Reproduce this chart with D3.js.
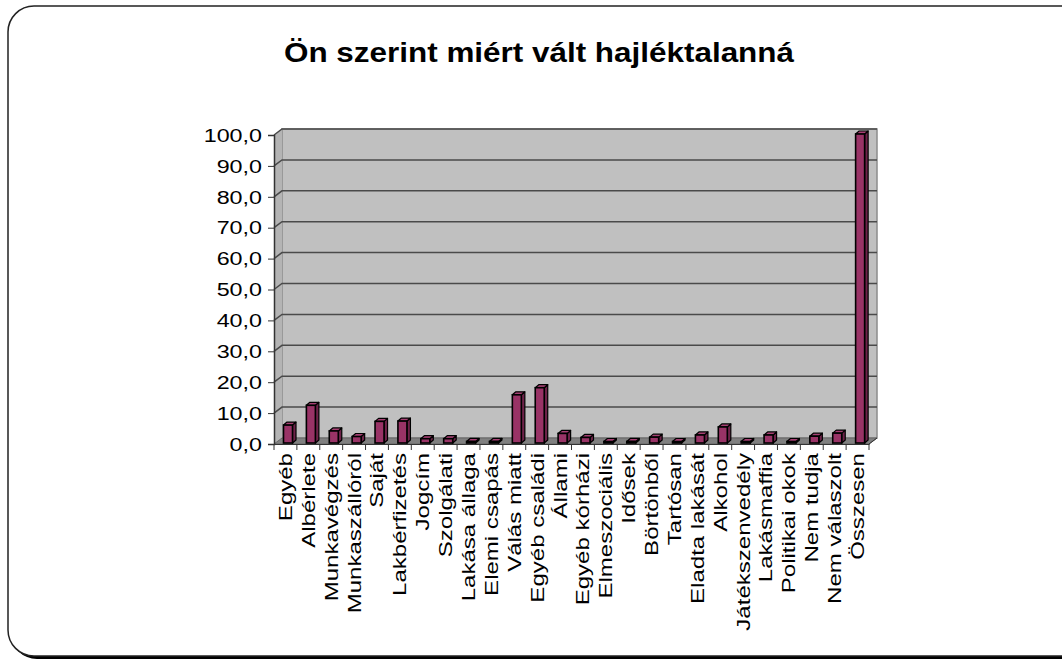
<!DOCTYPE html>
<html>
<head>
<meta charset="utf-8">
<script src="https://cdn.jsdelivr.net/npm/d3@7"></script>
<style>
  body { margin: 0; background: #fff; }
  svg { display: block; font-family: "Liberation Sans", Arial, sans-serif; }
  .title { font-size: 27px; font-weight: bold; }
</style>
</head>
<body>
<svg width="1062" height="662"></svg>
<script>
const svg = d3.select('svg');

// data
const categories = ['Egyéb', 'Albérlete', 'Munkavégzés', 'Munkaszállóról', 'Saját', 'Lakbérfizetés',
  'Jogcím', 'Szolgálati', 'Lakása állaga', 'Elemi csapás', 'Válás miatt', 'Egyéb családi', 'Állami',
  'Egyéb kórházi', 'Elmeszociális', 'Idősek', 'Börtönből', 'Tartósan', 'Eladta lakását', 'Alkohol',
  'Játékszenvedély', 'Lakásmaffia', 'Politikai okok', 'Nem tudja', 'Nem válaszolt', 'Összesen'];
const values = [5.8, 12.2, 3.9, 2.1, 7.0, 7.1, 1.4, 1.4, 0.5, 0.5, 15.6, 17.9, 3.1,
  1.8, 0.3, 0.5, 1.9, 0.4, 2.6, 5.2, 0.4, 2.6, 0.1, 2.2, 3.2, 100.0];
const yTicks = [0, 10, 20, 30, 40, 50, 60, 70, 80, 90, 100];

// frame with shadow
svg.append('rect')
  .attr('x', 11).attr('y', 9).attr('width', 1080).attr('height', 650)
  .attr('rx', 26).attr('fill', '#000');
svg.append('rect')
  .attr('x', 8).attr('y', 6).attr('width', 1080).attr('height', 650)
  .attr('rx', 26).attr('fill', '#fff').attr('stroke', '#222').attr('stroke-width', 1.5);

// title, stretched a little like the original
svg.append('text')
  .attr('class', 'title')
  .attr('x', 284).attr('y', 62)
  .attr('textLength', 510).attr('lengthAdjust', 'spacingAndGlyphs')
  .text('Ön szerint miért vált hajléktalanná');

// 3d layout
const plotLeft = 274, plotRight = 869;
const plotBase = 444, plotTop = 135;
const depthX = 8, depthY = -6;

const x = d3.scaleBand().domain(categories).range([plotLeft, plotRight]);
const y = d3.scaleLinear().domain([0, 100]).range([plotBase, plotTop]);

const g = svg.append('g');

// back wall
g.append('rect')
  .attr('x', plotLeft + depthX).attr('y', plotTop + depthY)
  .attr('width', plotRight - plotLeft).attr('height', plotBase - plotTop)
  .attr('fill', '#c0c0c0').attr('stroke', '#8c8c8c').attr('stroke-width', 1.5);

// side wall
g.append('polygon')
  .attr('points', [[plotLeft, plotTop], [plotLeft + depthX, plotTop + depthY], [plotLeft + depthX, plotBase + depthY], [plotLeft, plotBase]].join(' '))
  .attr('fill', '#b4b4b4');

// floor
g.append('polygon')
  .attr('points', [[plotLeft, plotBase], [plotLeft + depthX, plotBase + depthY], [plotRight + depthX, plotBase + depthY], [plotRight, plotBase]].join(' '))
  .attr('fill', '#808080').attr('stroke', '#666').attr('stroke-width', 1);

// gridlines
yTicks.filter(d => d > 0).forEach(t => {
  g.append('polyline')
    .attr('points', [[plotLeft, y(t)], [plotLeft + depthX, y(t) + depthY], [plotRight + depthX, y(t) + depthY]].join(' '))
    .attr('fill', 'none').attr('stroke', '#4a4a4a').attr('stroke-width', 1.5);
});

// y axis
const fmt = d => d3.format('.1f')(d).replace('.', ',');
const yAxis = g.append('g')
  .attr('transform', `translate(${plotLeft},0)`)
  .call(d3.axisLeft(y).tickValues(yTicks).tickFormat(fmt).tickSize(6));
yAxis.attr('font-family', null).attr('font-size', 18.5);
yAxis.select('.domain').attr('stroke', '#333').attr('stroke-width', 1.5);
yAxis.selectAll('.tick line').attr('stroke', '#333');
yAxis.selectAll('.tick text')
  .attr('x', 0).attr('dy', '0.34em').attr('fill', '#000')
  .attr('transform', 'translate(-12,0) scale(1.26,1)');

// x axis
const xAxis = g.append('g')
  .attr('transform', `translate(0,${plotBase})`)
  .call(d3.axisBottom(x).tickSize(0));
xAxis.attr('font-family', null).attr('font-size', 18.5);
xAxis.select('.domain').attr('stroke', '#333').attr('stroke-width', 1);
xAxis.selectAll('.tick text')
  .attr('transform', 'rotate(-90) translate(-9,0) scale(1.3,1)')
  .attr('text-anchor', 'end').attr('fill', '#000')
  .attr('x', 0).attr('y', 0).attr('dy', '0.35em');
// boundary ticks
xAxis.selectAll('.bound').data(categories.concat(['end']))
  .enter().append('line')
  .attr('class', 'bound')
  .attr('x1', (d, i) => plotLeft + i * x.bandwidth())
  .attr('x2', (d, i) => plotLeft + i * x.bandwidth())
  .attr('y1', 0).attr('y2', 6)
  .attr('stroke', '#333');
g.append('line')
  .attr('x1', plotRight).attr('y1', plotBase).attr('x2', plotRight + depthX).attr('y2', plotBase + depthY)
  .attr('stroke', '#333');

// bars
const bw = 9, bdx = 3.5, bdy = -3, bBase = plotBase - 1;
const bars = g.append('g').selectAll('g').data(values).enter().append('g');
const bx = (d, i) => x(categories[i]) + 9.5;
const by = d => Math.min(y(d) - 1, bBase - 1.5);

bars.append('polygon')
  .attr('points', (d, i) => {
    const x0 = bx(d, i) + bw, y0 = by(d);
    return [[x0, y0], [x0 + bdx, y0 + bdy], [x0 + bdx, bBase + bdy], [x0, bBase]].join(' ');
  })
  .attr('fill', '#6e2249').attr('stroke', '#000').attr('stroke-width', 1.2).attr('stroke-linejoin', 'round');
bars.append('polygon')
  .attr('points', (d, i) => {
    const x0 = bx(d, i), y0 = by(d);
    return [[x0, y0], [x0 + bdx, y0 + bdy], [x0 + bw + bdx, y0 + bdy], [x0 + bw, y0]].join(' ');
  })
  .attr('fill', '#a64073').attr('stroke', '#000').attr('stroke-width', 1.2).attr('stroke-linejoin', 'round');
bars.append('rect')
  .attr('x', bx).attr('y', d => by(d))
  .attr('width', bw).attr('height', d => bBase - by(d))
  .attr('fill', '#993366').attr('stroke', '#000').attr('stroke-width', 1.6);
</script>
</body>
</html>
